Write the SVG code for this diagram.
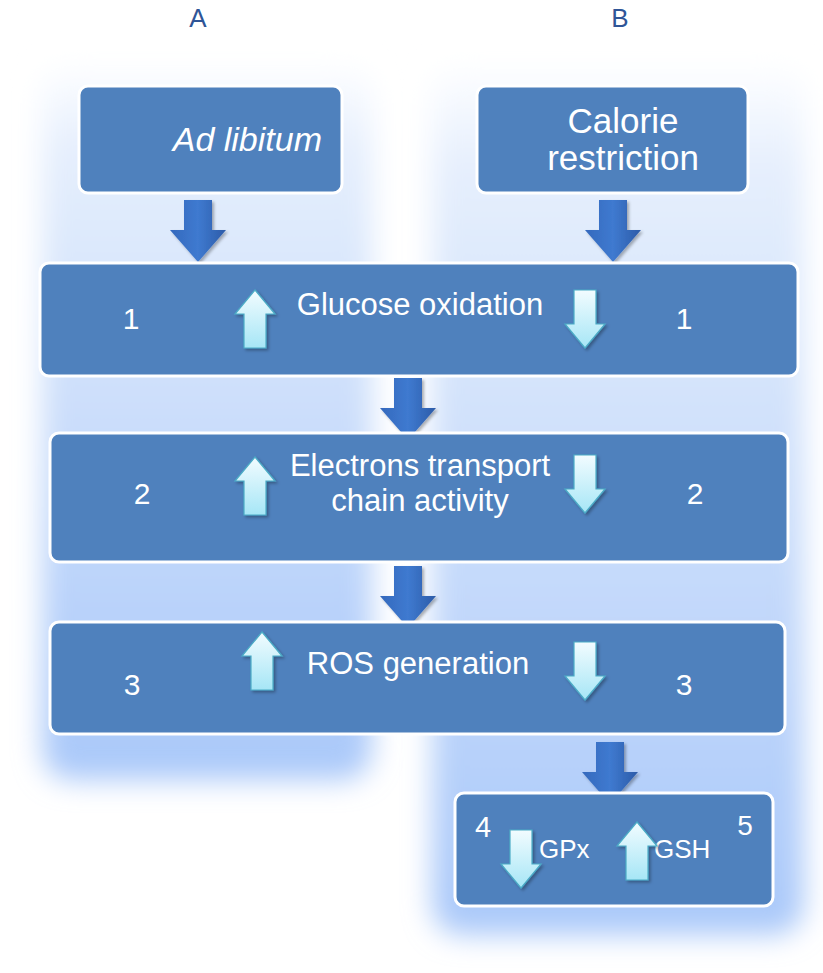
<svg xmlns="http://www.w3.org/2000/svg" width="823" height="973" viewBox="0 0 823 973">
<defs>
<linearGradient id="colg" x1="0" y1="0" x2="0" y2="1">
<stop offset="0" stop-color="#ffffff"/>
<stop offset="0.12" stop-color="#e6effd"/>
<stop offset="0.4" stop-color="#d2e2fb"/>
<stop offset="1" stop-color="#a9c8f9"/>
</linearGradient>
<filter id="blur" x="-20%" y="-20%" width="140%" height="140%"><feGaussianBlur stdDeviation="14"/></filter>
<linearGradient id="dark" x1="0" y1="0" x2="1" y2="0">
<stop offset="0" stop-color="#3469bd"/>
<stop offset="0.5" stop-color="#3f7ad0"/>
<stop offset="1" stop-color="#2c5ba8"/>
</linearGradient>
<linearGradient id="lightUp" x1="0" y1="0" x2="0" y2="1">
<stop offset="0" stop-color="#f2fcff"/>
<stop offset="1" stop-color="#a6e6f6"/>
</linearGradient>
<filter id="sh" x="-30%" y="-30%" width="160%" height="160%"><feDropShadow dx="2" dy="2" stdDeviation="1.5" flood-color="#000" flood-opacity="0.3"/></filter>
<path id="bigDown" d="M-14,0 H14 V30 H28 L0,62 L-28,30 H-14 Z"/>
<path id="smUp" d="M0,0 L20,24 H11 V58 H-11 V24 H-20 Z"/>
<path id="smDn" d="M-11,0 H11 V34 H20 L0,58 L-20,34 H-11 Z"/>
</defs>
<style>
.box{fill:#4f81bd;stroke:#ffffff;stroke-width:3}
.t{fill:#ffffff;font-family:"Liberation Sans",Arial,sans-serif}
.hd{fill:#2f5597;font-family:"Liberation Sans",Arial,sans-serif;font-size:26px}
.big{fill:url(#dark);filter:url(#sh)}
.sm{fill:url(#lightUp);stroke:#4bacc6;stroke-width:1.2;filter:url(#sh)}
</style>
<rect width="823" height="973" fill="#ffffff"/>
<g id="columns">
<rect x="42" y="60" width="330" height="720" rx="30" fill="url(#colg)" filter="url(#blur)"/>
<rect x="432" y="60" width="372" height="875" rx="30" fill="url(#colg)" filter="url(#blur)"/>
</g>
<g id="labels">
<text class="hd" x="198" y="27" text-anchor="middle">A</text>
<text class="hd" x="620" y="27" text-anchor="middle">B</text>
</g>
<g id="connectors">
<use href="#bigDown" class="big" x="198" y="200"/>
<use href="#bigDown" class="big" x="613" y="200"/>
<use href="#bigDown" class="big" x="408" y="378"/>
<use href="#bigDown" class="big" x="408" y="566"/>
<use href="#bigDown" class="big" x="610" y="742"/>
</g>
<g id="adlib">
<rect class="box" x="79" y="86" width="263" height="107" rx="9"/>
<text class="t" x="322" y="151" text-anchor="end" font-size="34" font-style="italic">Ad libitum</text>
</g>
<g id="calorie">
<rect class="box" x="477" y="86" width="271" height="107" rx="9"/>
<text class="t" x="623" y="133" text-anchor="middle" font-size="35">Calorie</text>
<text class="t" x="623" y="170" text-anchor="middle" font-size="35">restriction</text>
</g>
<g id="glucose">
<rect class="box" x="40" y="263" width="758" height="113" rx="9"/>
<text class="t" x="420" y="315" text-anchor="middle" font-size="31">Glucose oxidation</text>
<text class="t" x="131" y="329" text-anchor="middle" font-size="30">1</text>
<text class="t" x="684" y="329" text-anchor="middle" font-size="30">1</text>
<use href="#smUp" class="sm" x="255" y="290"/>
<use href="#smDn" class="sm" x="585" y="290"/>
</g>
<g id="etc">
<rect class="box" x="50" y="433" width="738" height="129" rx="9"/>
<text class="t" x="420" y="476" text-anchor="middle" font-size="31">Electrons transport</text>
<text class="t" x="420" y="511" text-anchor="middle" font-size="31">chain activity</text>
<text class="t" x="142" y="504" text-anchor="middle" font-size="30">2</text>
<text class="t" x="695" y="504" text-anchor="middle" font-size="30">2</text>
<use href="#smUp" class="sm" x="255" y="457"/>
<use href="#smDn" class="sm" x="585" y="455"/>
</g>
<g id="ros">
<rect class="box" x="50" y="622" width="735" height="112" rx="9"/>
<text class="t" x="418" y="674" text-anchor="middle" font-size="31">ROS generation</text>
<text class="t" x="132" y="695" text-anchor="middle" font-size="30">3</text>
<text class="t" x="684" y="695" text-anchor="middle" font-size="30">3</text>
<use href="#smUp" class="sm" x="262" y="632"/>
<use href="#smDn" class="sm" x="585" y="642"/>
</g>
<g id="gpx">
<rect class="box" x="455" y="793" width="318" height="113" rx="9"/>
<text class="t" x="483" y="837" text-anchor="middle" font-size="29">4</text>
<text class="t" x="745" y="835" text-anchor="middle" font-size="28">5</text>
<text class="t" x="539" y="858" font-size="26">GPx</text>
<text class="t" x="654" y="858" font-size="26">GSH</text>
<use href="#smDn" class="sm" x="521" y="830"/>
<use href="#smUp" class="sm" x="637" y="822"/>
</g>
</svg>
